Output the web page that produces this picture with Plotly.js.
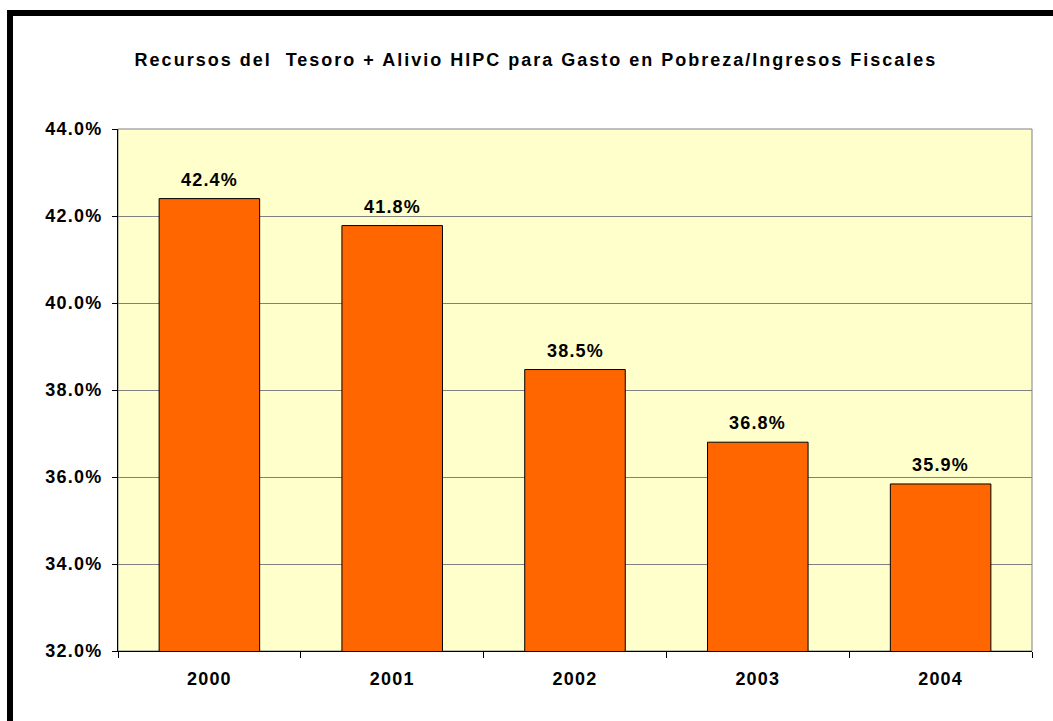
<!DOCTYPE html>
<html><head><meta charset="utf-8">
<script src="https://cdn.plot.ly/plotly-3.0.1.min.js"></script>
<style>
html,body{margin:0;padding:0;background:#fff;}
#chart{width:1053px;height:721px;}
#frame{position:absolute;left:7px;top:10px;right:0;bottom:0;border-top:6px solid #000;border-left:6px solid #000;pointer-events:none;}
.xtick text, .ytick text, .annotation-text {letter-spacing:1.2px;}
.gtitle {letter-spacing:2px;}
</style></head>
<body>
<div id="chart"></div>
<div id="frame"></div>
<script>
const years = ["2000", "2001", "2002", "2003", "2004"];
const values = [42.4, 41.78, 38.47, 36.8, 35.84];
const labels = ["42.4%", "41.8%", "38.5%", "36.8%", "35.9%"];
const yTicks = [32, 34, 36, 38, 40, 42, 44];
const yTickText = ["32.0%", "34.0%", "36.0%", "38.0%", "40.0%", "42.0%", "44.0%"];

const font = {family: "Liberation Sans, Arial, sans-serif", size: 18, color: "#000"};

const trace = {
  type: "bar", x: years, y: values,
  marker: {color: "#FF6600", line: {color: "#000", width: 1}},
  hoverinfo: "skip"
};

const annotations = years.map((yr, i) => ({
  x: i, y: values[i], xref: "x", yref: "y",
  text: "<b>" + labels[i] + "</b>", showarrow: false,
  yanchor: "bottom", yshift: 7, font: {...font}
}));

const layout = {
  width: 1053, height: 721,
  margin: {l: 118, r: 21, t: 129, b: 70},
  paper_bgcolor: "#fff", plot_bgcolor: "#FFFFCC",
  showlegend: false, bargap: 0.45,
  title: {text: "<b>Recursos del  Tesoro + Alivio HIPC para Gasto en Pobreza/Ingresos Fiscales</b>",
          font: {...font, size: 18}, x: 0.509, xanchor: "center", y: 0.917, yanchor: "middle"},
  xaxis: {type: "category", range: [-0.5, 4.5], autorange: false,
          showline: true, linecolor: "#000", linewidth: 1,
          ticks: "outside", tickson: "boundaries", ticklen: 6, tickcolor: "#000",
          showgrid: false, tickfont: {...font}, ticklabelstandoff: 11,
          tickvals: years, ticktext: years.map(y => "<b>" + y + "</b>")},
  yaxis: {range: [32, 44], autorange: false, tickvals: yTicks, ticktext: yTickText.map(t => "<b>" + t + "</b>"),
          showline: true, linecolor: "#000", linewidth: 1, ticks: "outside", ticklen: 5,
          tickcolor: "#000", showgrid: true, gridcolor: "#808080", gridwidth: 1,
          zeroline: false, tickfont: {...font}, ticklabelstandoff: 6},
  shapes: [{type: "rect", xref: "paper", yref: "paper", x0: 0, x1: 1, y0: 0, y1: 1,
            line: {color: "#808080", width: 1}, layer: "below"}],
  annotations: annotations
};

Plotly.newPlot("chart", [trace], layout, {displayModeBar: false, staticPlot: true});
</script>
</body></html>
